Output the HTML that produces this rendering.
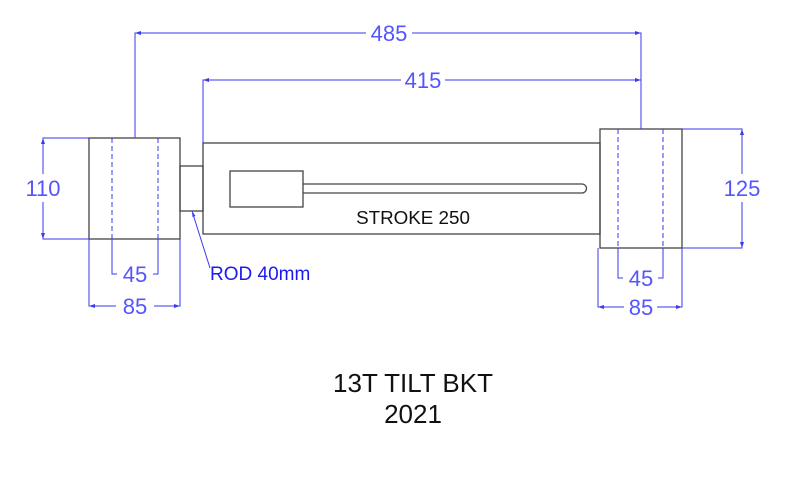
<!DOCTYPE html>
<html><head><style>html,body{margin:0;padding:0;background:#fff}svg{display:block}</style></head>
<body>
<svg width="800" height="504" xmlns="http://www.w3.org/2000/svg" font-family="Liberation Sans, sans-serif">
<rect width="800" height="504" fill="#fff"/>
<g stroke="#444" stroke-width="1.3" fill="none">
  <rect x="89" y="138" width="91" height="101"/>
  <rect x="180" y="166" width="23" height="45"/>
  <rect x="203" y="143" width="397" height="91"/>
  <rect x="230" y="171" width="73" height="36"/>
  <path d="M303 184 H582 A4.5 4.5 0 0 1 582 193 H303"/>
  <rect x="600" y="129" width="82" height="119"/>
</g>
<g stroke="#3a3aee" stroke-width="1" fill="none">
  <g stroke-dasharray="5,3"><line x1="112" y1="138" x2="112" y2="239"/><line x1="158" y1="138" x2="158" y2="239"/>
  <line x1="618" y1="129" x2="618" y2="248"/><line x1="663" y1="129" x2="663" y2="248"/></g>
  <path d="M135 138 V33 H366 M412 33 H641 V129"/>
  <path d="M203 143 V80 H401 M445 80 H641"/>
  <path d="M89 138 H43 V174 M43 202 V239 H89"/>
  <path d="M682 129 H742 V174 M742 202 V248 H682"/>
  <path d="M112 239 V274 H117 M153 274 H158 V239"/>
  <path d="M89 239 V306 H116 M154 306 H180 V239"/>
  <path d="M618 248 V278 H623 M658 278 H663 V248"/>
  <path d="M598 248 V307 H624 M657 307 H682 V248"/>
  <line x1="192" y1="211" x2="210" y2="268"/>
</g>
<g fill="#3a3aee">
  <path d="M135 33 l6 -2 v4z M641 33 l-6 -2 v4z M203 80 l6 -2 v4z M641 80 l-6 -2 v4z"/>
  <path d="M43 138 l-2 6 h4z M43 239 l-2 -6 h4z M742 129 l-2 6 h4z M742 248 l-2 -6 h4z"/>
  <path d="M89 306 l6 -2 v4z M180 306 l-6 -2 v4z M598 307 l6 -2 v4z M682 307 l-6 -2 v4z"/>
  <path d="M192 211 l0.5 6 l3 -1z"/>
</g>
<g fill="#5555ff" font-size="22" text-anchor="middle">
  <text x="389" y="41">485</text>
  <text x="423" y="88">415</text>
  <text x="43" y="196">110</text>
  <text x="742" y="196">125</text>
  <text x="135" y="282">45</text>
  <text x="135" y="314">85</text>
  <text x="641" y="286">45</text>
  <text x="641" y="315">85</text>
</g>
<text x="210" y="280" font-size="19" fill="#1a1aee">ROD 40mm</text>
<text x="413" y="224" font-size="18.8" fill="#111" text-anchor="middle">STROKE 250</text>
<text x="413" y="392" font-size="26" fill="#111" text-anchor="middle">13T TILT BKT</text>
<text x="413" y="423" font-size="26" fill="#111" text-anchor="middle">2021</text>
</svg>
</body></html>
